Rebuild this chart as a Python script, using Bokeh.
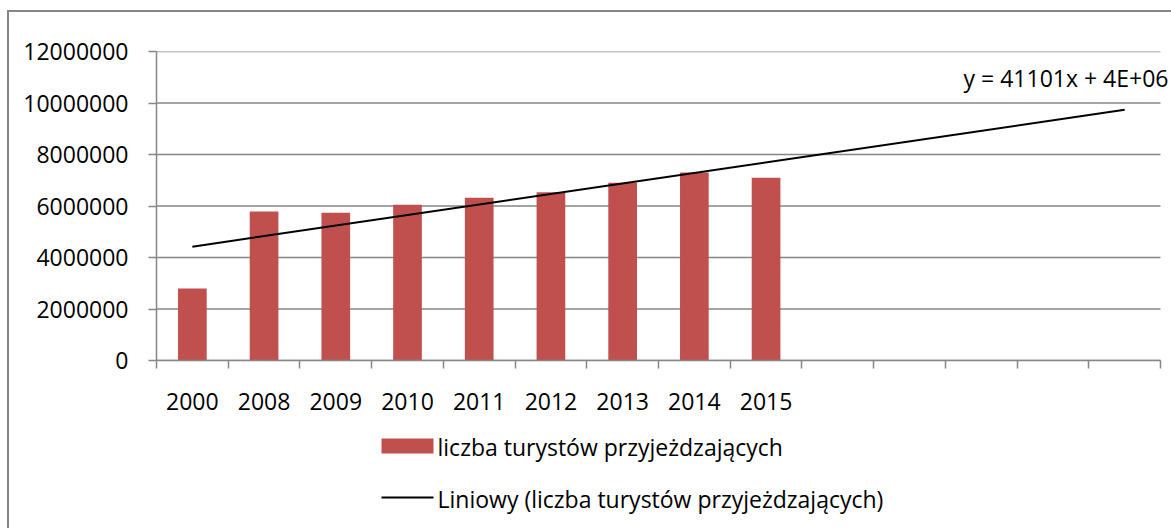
import numpy as np
from bokeh.plotting import figure
from bokeh.layouts import column
from bokeh.models import Range1d, FixedTicker, NumeralTickFormatter, Label
from bokeh.core.properties import value
from bokeh.embed import file_html
from bokeh.resources import INLINE

# ---- data ----
categories = ["2000", "2008", "2009", "2010", "2011", "2012", "2013", "2014", "2015",
              "", "", "", "", ""]
years = ["2000", "2008", "2009", "2010", "2011", "2012", "2013", "2014", "2015"]
tourists = [2800000, 5786000, 5736000, 6046000, 6320000, 6535000, 6900000, 7300000, 7095000]
y_ticks = [0, 2000000, 4000000, 6000000, 8000000, 10000000, 12000000]
series_name = "liczba turystów przyjeżdzających"
trend_name = "Liniowy (liczba turystów przyjeżdzających)"
equation = "y = 41101x + 4E+06"

FONT = "Open Sans"
FS = "23px"
GRAY = "#868686"
RED = "#C0504D"

# ---- layout geometry (pixels) ----
W = 1171
MAIN_H = 430
LEG_H = 528 - MAIN_H
FL, FT = 156, 51            # frame left / top
AX_END = 1160               # where the category axis ends
FB = 360                    # frame bottom
n = len(categories)
cat_px = (AX_END - FL) / n
x_hi = 0.5 + (W - FL) / cat_px   # frame runs to right edge so the equation fits

p = figure(width=W, height=MAIN_H, output_backend="svg", toolbar_location=None,
           x_range=Range1d(0.5, x_hi),
           y_range=Range1d(y_ticks[0], y_ticks[-1]),
           min_border_left=FL, min_border_right=0, min_border_top=FT,
           min_border_bottom=MAIN_H - FB)
p.outline_line_color = None
p.background_fill_color = "white"
p.border_fill_alpha = 0

# horizontal gridlines, spanning the category axis only
p.xgrid.grid_line_color = None
p.ygrid.grid_line_color = None
p.segment(x0=[0.5] * len(y_ticks), x1=[n + 0.5] * len(y_ticks), y0=y_ticks, y1=y_ticks,
          line_color=GRAY, line_width=1.5)

xs = list(range(1, len(years) + 1))
p.vbar(x=xs, top=tourists, width=0.4, fill_color=RED, line_color=None)

# linear trend (least squares, as Excel does), forecast over all categories
slope, intercept = np.polyfit(xs, tourists, 1)
tx = [1, n]
ty = [slope * v + intercept for v in tx]
p.line(tx, ty, line_color="black", line_width=2)

# ---- axes ----
yax = p.yaxis[0]
yax.ticker = FixedTicker(ticks=y_ticks)
yax.formatter = NumeralTickFormatter(format="0")
yax.axis_line_color = GRAY
yax.axis_line_width = 1.5
yax.major_tick_line_color = GRAY
yax.major_tick_line_width = 1.5
yax.major_tick_out = 8
yax.major_tick_in = 0
yax.minor_tick_line_color = None
yax.major_label_standoff = 20
yax.major_label_text_font = FONT
yax.major_label_text_font_size = FS
yax.major_label_text_color = "black"

xax = p.xaxis[0]
xax.bounds = (0.5, n + 0.5)
xax.ticker = FixedTicker(ticks=[i + 1 for i in range(n)],
                         minor_ticks=[i + 0.5 for i in range(n + 1)])
xax.major_label_overrides = {i + 1: c for i, c in enumerate(categories)}
xax.axis_line_color = GRAY
xax.axis_line_width = 1.5
xax.major_tick_line_color = None
xax.major_tick_out = 0
xax.major_tick_in = 0
xax.minor_tick_line_color = GRAY
xax.minor_tick_line_width = 1.5
xax.minor_tick_out = 8
xax.minor_tick_in = 0
xax.major_label_standoff = 24
xax.major_label_text_font = FONT
xax.major_label_text_font_size = FS
xax.major_label_text_color = "black"

def dx(px):
    return 0.5 + (px - FL) / cat_px
def dy(py):
    return (FB - py) / (FB - FT) * y_ticks[-1]

# trendline equation
p.add_layout(Label(x=dx(1168), y=dy(77), text=equation, text_align="right",
                   text_baseline="middle", text_font=FONT, text_font_size=FS,
                   text_color="black"))

# ---- legend area (separate panel below the chart; same horizontal mapping as the chart,
#      vertical pixel coordinates from its top) ----
leg = figure(width=W, height=LEG_H, output_backend="svg", toolbar_location=None,
             x_range=Range1d(0.5, x_hi), y_range=Range1d(LEG_H, 0),
             x_axis_type=None, y_axis_type=None,
             min_border_left=FL, min_border_right=0, min_border_top=0, min_border_bottom=0)
leg.outline_line_color = None
leg.background_fill_alpha = 0
leg.border_fill_alpha = 0
leg.xgrid.visible = False
leg.ygrid.visible = False

top0 = 438 - MAIN_H
leg.quad(left=[dx(381)], right=[dx(433)], top=[top0], bottom=[top0 + 15],
         fill_color=RED, line_color=None)
leg.text(x=[dx(437)], y=[top0 + 8], text=[series_name], text_align="left",
         text_baseline="middle", text_font=value(FONT), text_font_size=value(FS),
         text_color="black")
ly = 497 - MAIN_H
leg.line(x=[dx(381), dx(433)], y=[ly, ly], line_color="black", line_width=2)
leg.text(x=[dx(437)], y=[ly + 1], text=[trend_name], text_align="left",
         text_baseline="middle", text_font=value(FONT), text_font_size=value(FS),
         text_color="black")

layout = column(p, leg, spacing=0)
# outer chart-area border (only its left and top edges are visible in the view)
layout.styles = {
    "background-image": "linear-gradient(#868686, #868686), linear-gradient(#868686, #868686)",
    "background-size": "2px 100%, 100% 2px",
    "background-position": "7px 10px, 7px 10px",
    "background-repeat": "no-repeat",
}

open("out.html", "w").write(file_html(layout, INLINE))
